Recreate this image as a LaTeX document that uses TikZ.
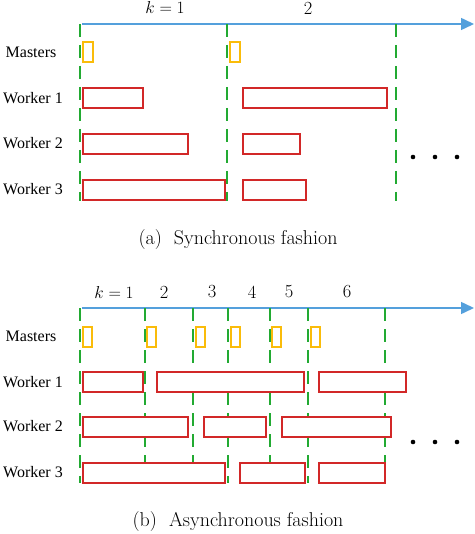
\documentclass[tikz,border=0pt]{standalone}
\usepackage{fontspec}
\newfontfamily\rowfont{Liberation Serif}
\usetikzlibrary{arrows.meta}
\definecolor{axisblue}{RGB}{84,160,220}
\definecolor{tickgreen}{RGB}{34,170,50}
\definecolor{workred}{RGB}{210,40,40}
\definecolor{masterorange}{RGB}{250,188,10}
\tikzset{
  axisline/.style={axisblue, line width=1.5pt, -{Triangle[length=13pt,width=12pt]}},
  tickline/.style={tickgreen, line width=2pt, dash pattern=on 13pt off 8pt},
  workbox/.style={workred, line width=2pt, fill=white},
  masterbox/.style={masterorange, line width=2pt, fill=white},
  rowlabel/.style={font=\rowfont\fontsize{16}{18}\selectfont},
  steplabel/.style={font=\fontsize{18.5}{21}\selectfont},
  caplabel/.style={font=\fontsize{20}{23}\selectfont}
}
\begin{document}
\begin{tikzpicture}[x=1pt,y=-1pt]
  \useasboundingbox (0,0) rectangle (474,534);
  % (a) synchronous
  \coordinate (sa) at (82,24);
  \coordinate (ea) at (474,24);
  \draw[axisline] (sa) -- (ea);
  \foreach \x in {80,227,396}
    \draw[tickline] (\x,24) -- (\x,201);
  \node[steplabel] (ka1) at (165,8) {$k=1$};
  \node[steplabel] (ka2) at (308,8) {2};
  \node[rowlabel] (ma) at (31,52) {Masters};
  \node[rowlabel] (wa1) at (33,98) {Worker 1};
  \node[rowlabel] (wa2) at (33,143) {Worker 2};
  \node[rowlabel] (wa3) at (33,189) {Worker 3};
  \foreach \x in {83,230}
    \draw[masterbox] (\x,42) rectangle (\x+10,62);
  \foreach \a/\b/\y in {83/143/88, 243/387/88,
                        83/188/134, 243/300/134,
                        83/225/180, 243/306/180}
    \draw[workbox] (\a,\y) rectangle (\b,\y+20);
  \foreach \x in {413,435,457}
    \fill (\x,157) circle (2.3pt);
  \node[caplabel] (capa) at (238,240) {(a)~~Synchronous fashion};
  % (b) asynchronous
  \coordinate (sb) at (82,308);
  \coordinate (eb) at (474,308);
  \draw[axisline] (sb) -- (eb);
  \foreach \x in {80,145,193,228,270,308,385}
    \draw[tickline] (\x,308) -- (\x,483);
  \node[steplabel] (kb1) at (114,292) {$k=1$};
  \foreach \x/\n in {164/2,212/3,252/4,289/5,347/6}
    \node[steplabel] (kb\n) at (\x,292) {\n};
  \node[rowlabel] (mb) at (31,336) {Masters};
  \node[rowlabel] (wb1) at (33,382) {Worker 1};
  \node[rowlabel] (wb2) at (33,426) {Worker 2};
  \node[rowlabel] (wb3) at (33,472) {Worker 3};
  \foreach \x in {83,147,196,231,272,311}
    \draw[masterbox] (\x,327) rectangle (\x+9,347);
  \foreach \a/\b/\y in {83/143/372, 157/304/372, 319/406/372,
                        83/188/417, 204/266/417, 282/391/417,
                        83/225/463, 240/305/463, 319/385/463}
    \draw[workbox] (\a,\y) rectangle (\b,\y+20);
  \foreach \x in {413,435,457}
    \fill (\x,442) circle (2.3pt);
  \node[caplabel] (capb) at (238,522) {(b)~~Asynchronous fashion};
\end{tikzpicture}
\end{document}
